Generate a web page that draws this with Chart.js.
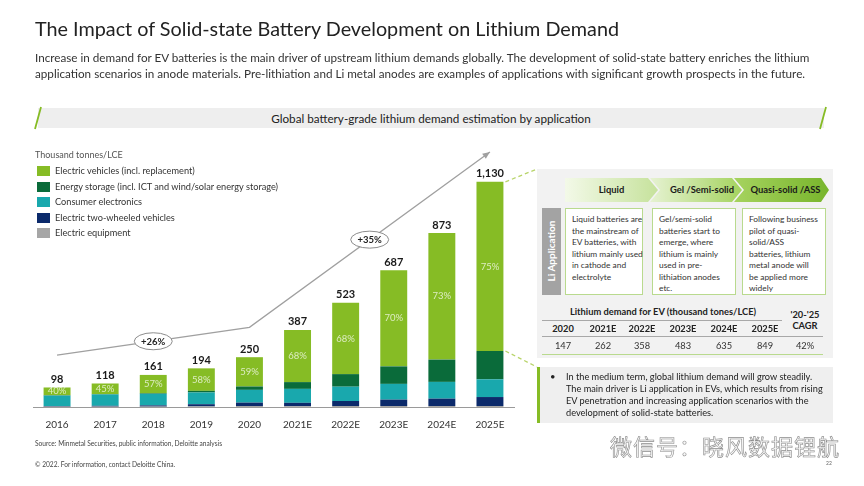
<!DOCTYPE html>
<html>
<head>
<meta charset="utf-8">
<title>Lithium Demand</title>
<script src="https://cdn.jsdelivr.net/npm/chart.js"></script>
<style>
  body { margin:0; width:864px; height:486px; position:relative; overflow:hidden; background:#fff; font-family:Lato, 'Open Sans', sans-serif; color:#222; }
  .abs { position:absolute; white-space:nowrap; }
  #chart { position:absolute; left:0; top:0; }
  .leg { position:absolute; left:37px; font-size:9.2px; color:#333; line-height:12px; }
  .leg i { position:absolute; left:0; top:1px; width:13px; height:10px; }
  .leg span { position:absolute; left:18px; top:0; white-space:nowrap; }
  .chev { position:absolute; top:178px; height:24px; line-height:24px; font-size:9.4px; font-weight:bold; color:#1a1a1a; text-align:center; }
  .box { position:absolute; top:208px; height:84px; background:#fff; border:1.5px solid #b9da8e; font-size:8.4px; line-height:11.5px; color:#333; padding:5px 0 0 6px; box-sizing:border-box; white-space:nowrap; }
  .cell { position:absolute; width:40px; margin-left:-20px; text-align:center; font-size:9.3px; color:#333; }
  .hl { position:absolute; height:1px; background:#a8a8a8; }
</style>
</head>
<body>
<canvas id="chart" width="864" height="486"></canvas>

<div class="abs" style="left:35px;top:14px;font-size:19.8px;line-height:28px;color:#222;">The Impact of Solid-state Battery Development on Lithium Demand</div>
<div class="abs" style="left:35px;top:49px;font-size:11.7px;line-height:16px;color:#333;">Increase in demand for EV batteries is the main driver of upstream lithium demands globally. The development of solid-state battery enriches the lithium<br>application scenarios in anode materials. Pre-lithiation and Li metal anodes are examples of applications with significant growth prospects in the future.</div>

<div class="abs" style="left:38px;top:108px;width:786px;height:20px;background:#eeeeee;"></div>
<div class="abs" style="left:38px;top:108px;width:786px;line-height:20px;font-size:11.7px;text-align:center;color:#222;">Global battery-grade lithium demand estimation by application</div>
<svg class="abs" style="left:0;top:0;" width="864" height="140">
  <line x1="35" y1="129" x2="41" y2="107" stroke="#86bc25" stroke-width="1.8"/>
  <line x1="820" y1="129" x2="826" y2="107" stroke="#86bc25" stroke-width="1.8"/>
</svg>

<div class="abs" style="left:35px;top:149px;font-size:9px;color:#555;">Thousand tonnes/LCE</div>
<div id="legend"></div>

<!-- right panel -->
<div class="abs" style="left:537px;top:169px;width:296px;height:189px;background:#f2f2f2;"></div>
<div class="chev" style="left:565px;width:93px;clip-path:polygon(0 0,calc(100% - 10px) 0,100% 50%,calc(100% - 10px) 100%,0 100%);background:linear-gradient(to right,#f3f9e8,#c6e29c);">Liquid</div>
<div class="chev" style="left:650px;width:92px;padding-left:12px;box-sizing:border-box;clip-path:polygon(0 0,calc(100% - 10px) 0,100% 50%,calc(100% - 10px) 100%,0 100%,10px 50%);background:linear-gradient(to right,#e6f2d2,#a4d35e);">Gel /Semi-solid</div>
<div class="chev" style="left:734px;width:95px;padding-left:8px;box-sizing:border-box;clip-path:polygon(0 0,calc(100% - 8px) 0,100% 50%,calc(100% - 8px) 100%,0 100%,10px 50%);background:linear-gradient(to right,#a6d35f,#78b52c);">Quasi-solid /ASS</div>

<div class="abs" style="left:542px;top:208px;width:19px;height:87px;background:#a3a3a3;"></div>
<div class="abs" style="left:551px;top:251px;transform:translate(-50%,-50%) rotate(-90deg);font-size:10px;font-weight:bold;color:#fff;">Li Application</div>

<div class="box" style="left:565px;width:78px;height:87px;">Liquid batteries are<br>the mainstream of<br>EV batteries, with<br>lithium mainly used<br>in cathode and<br>electrolyte</div>
<div class="box" style="left:652px;width:84px;height:87px;">Gel/semi-solid<br>batteries start to<br>emerge, where<br>lithium is mainly<br>used in pre-<br>lithiation anodes<br>etc.</div>
<div class="box" style="left:742px;width:84px;height:87px;">Following business<br>pilot of quasi-<br>solid/ASS<br>batteries, lithium<br>metal anode will<br>be applied more<br>widely</div>

<div class="abs" style="left:663px;top:306px;transform:translateX(-50%);font-size:9.3px;font-weight:bold;color:#222;">Lithium demand for EV (thousand tones/LCE)</div>
<div class="hl" style="left:542px;top:320px;width:240px;"></div>
<div class="hl" style="left:542px;top:336px;width:281px;"></div>
<div class="hl" style="left:542px;top:354px;width:281px;background:#b9da8e;"></div>
<div class="abs" style="left:805px;top:309px;transform:translateX(-50%);font-size:9.3px;font-weight:bold;line-height:11px;text-align:center;color:#222;">'20-'25<br>CAGR</div>
<div id="table"></div>

<div class="abs" style="left:537px;top:367px;width:296px;height:56px;background:#efefef;border-left:3px solid #86bc25;box-sizing:border-box;"></div>
<div class="abs" style="left:550px;top:371px;font-size:9.5px;color:#222;">•</div>
<div class="abs" style="left:566px;top:371px;font-size:9.2px;line-height:12px;color:#222;">In the medium term, global lithium demand will grow steadily.<br>The main driver is Li application in EVs, which results from rising<br>EV penetration and increasing application scenarios with the<br>development of solid-state batteries.</div>

<div class="abs" style="left:35px;top:439px;font-size:6.6px;color:#444;">Source: Minmetal Securities, public information, Deloitte analysis</div>
<div class="abs" style="left:35px;top:460px;font-size:6.6px;color:#444;">© 2022. For information, contact Deloitte China.</div>
<div class="abs" style="left:610px;top:429px;font-size:22px;color:#f7f7f7;-webkit-text-stroke:0.6px #8c8c8c;font-family:'Noto Sans CJK SC';letter-spacing:1px;">微信号：晓风数据锂航</div>
<div class="abs" style="left:826px;top:460px;font-size:5px;color:#666;">22</div>

<script>
// chart data (thousand tonnes LCE)
const years = ['2016', '2017', '2018', '2019', '2020', '2021E', '2022E', '2023E', '2024E', '2025E'];
const evValues        = [39, 53, 92, 113, 147, 262, 358, 483, 635, 849];
const storageValues   = [2, 2, 3, 8, 17, 34, 63, 88, 112, 142];
const consumerValues  = [52, 57, 58, 59, 64, 70, 72, 79, 84, 89];
const twoWheelValues  = [3, 4, 6, 11, 17, 17, 25, 32, 37, 45];
const equipmentValues = [2, 2, 2, 3, 5, 4, 5, 5, 5, 5];
const totals = [98, 118, 161, 194, 250, 387, 523, 687, 873, 1130];
const evShares = ['40%', '45%', '57%', '58%', '59%', '68%', '68%', '70%', '73%', '75%'];
// growth arrow drawn over the bars
const trendLine = [260, null, null, null, 400, null, null, null, null, 1280];
const cagrLabels = ['+26%', '+35%'];

// EV table on the right
const tableYears = ['2020', '2021E', '2022E', '2023E', '2024E', '2025E', ''];
const tableValues = ['147', '262', '358', '483', '635', '849', '42%'];

const seriesNames = ['Electric vehicles (incl. replacement)', 'Energy storage (incl. ICT and wind/solar energy storage)',
  'Consumer electronics', 'Electric two-wheeled vehicles', 'Electric equipment'];
const seriesColors = ['#86bc25', '#0a6b3a', '#19a8ad', '#0b2a6b', '#a6a6a6'];

// legend
let lg = '';
seriesNames.forEach((n, i) => {
  lg += '<div class="leg" style="top:' + (165 + i * 15.6) + 'px"><i style="background:' + seriesColors[i] + '"></i><span>' + n + '</span></div>';
});
document.getElementById('legend').innerHTML = lg;

// table cells
const colX = [563, 603, 642, 683, 724, 765, 805];
let tb = '';
tableYears.forEach((y, i) => {
  if (y) tb += '<div class="cell" style="left:' + colX[i] + 'px;top:323px;font-weight:bold;color:#222">' + y + '</div>';
  tb += '<div class="cell" style="left:' + colX[i] + 'px;top:340px">' + tableValues[i] + '</div>';
});
document.getElementById('table').innerHTML = tb;

const overlay = {
  id: 'overlay',
  afterDatasetsDraw(chart) {
    const ctx = chart.ctx;
    const evMeta = chart.getDatasetMeta(4);
    ctx.save();
    ctx.textAlign = 'center';
    ctx.textBaseline = 'middle';
    evMeta.data.forEach((bar, i) => {
      ctx.fillStyle = 'rgba(255,255,255,0.72)';
      ctx.font = '9.5px Lato';
      ctx.fillText(evShares[i], bar.x, (bar.y + bar.base) / 2);
      ctx.fillStyle = '#1a1a1a';
      ctx.font = 'bold 11px Lato';
      ctx.fillText(totals[i].toLocaleString('en-US'), bar.x, bar.y - 8);
    });

    // arrow head + CAGR bubbles
    const pts = chart.getDatasetMeta(5).data.filter((p, i) => trendLine[i] !== null);
    const a = pts[pts.length - 2], b = pts[pts.length - 1];
    const ang = Math.atan2(b.y - a.y, b.x - a.x);
    ctx.fillStyle = '#a0a0a0';
    ctx.beginPath();
    ctx.moveTo(b.x, b.y);
    ctx.lineTo(b.x - 8 * Math.cos(ang - 0.4), b.y - 8 * Math.sin(ang - 0.4));
    ctx.lineTo(b.x - 8 * Math.cos(ang + 0.4), b.y - 8 * Math.sin(ang + 0.4));
    ctx.closePath();
    ctx.fill();
    for (let k = 0; k < pts.length - 1; k++) {
      const mx = (pts[k].x + pts[k + 1].x) / 2, my = (pts[k].y + pts[k + 1].y) / 2;
      ctx.beginPath();
      ctx.ellipse(mx, my, 19, 8.5, 0, 0, Math.PI * 2);
      ctx.fillStyle = '#fff';
      ctx.fill();
      ctx.strokeStyle = '#8c8c8c';
      ctx.lineWidth = 1;
      ctx.stroke();
      ctx.fillStyle = '#222';
      ctx.font = 'bold 9.5px Lato';
      ctx.fillText(cagrLabels[k], mx, my + 0.5);
    }

    // dashed links from the 2025E bar to the right panel
    const last = evMeta.data[evMeta.data.length - 1];
    const rx = last.x + last.width / 2 + 2;
    ctx.strokeStyle = '#b8d46a';
    ctx.lineWidth = 1.3;
    ctx.setLineDash([4, 3]);
    ctx.beginPath();
    ctx.moveTo(rx, last.y);
    ctx.lineTo(537, 169);
    ctx.moveTo(rx, last.base);
    ctx.lineTo(537, 367);
    ctx.stroke();
    ctx.restore();
  }
};

const barWidth = 0.56;
const stackOrder = [equipmentValues, twoWheelValues, consumerValues, storageValues, evValues];
const stackColors = ['#a6a6a6', '#0b2a6b', '#19a8ad', '#0a6b3a', '#86bc25'];
const stackNames = ['Electric equipment', 'Electric two-wheeled vehicles', 'Consumer electronics', 'Energy storage', 'Electric vehicles'];

const datasets = stackOrder.map((vals, i) => ({
  type: 'bar',
  label: stackNames[i],
  data: vals,
  backgroundColor: stackColors[i],
  categoryPercentage: 1,
  barPercentage: barWidth,
  order: 2
}));
datasets.push({
  type: 'line',
  label: 'trend',
  data: trendLine,
  stack: 'arrow',
  spanGaps: true,
  borderColor: '#a0a0a0',
  borderWidth: 1.3,
  pointRadius: 0,
  tension: 0,
  order: 1
});

new Chart(document.getElementById('chart').getContext('2d'), {
  type: 'bar',
  data: { labels: years, datasets: datasets },
  options: {
    responsive: false,
    animation: false,
    layout: { padding: { left: 33, right: 350, top: 148, bottom: 56 } },
    plugins: { legend: { display: false }, tooltip: { enabled: false } },
    scales: {
      x: {
        stacked: true,
        grid: { display: false },
        border: { color: '#9a9a9a', width: 1 },
        ticks: { color: '#333', font: { family: 'Lato', size: 10 }, padding: 4, maxRotation: 0 },
        afterFit(s) { s.height = 23; }
      },
      y: { stacked: true, display: false, min: 0, max: 1300 }
    }
  },
  plugins: [overlay]
});
</script>
</body>
</html>
